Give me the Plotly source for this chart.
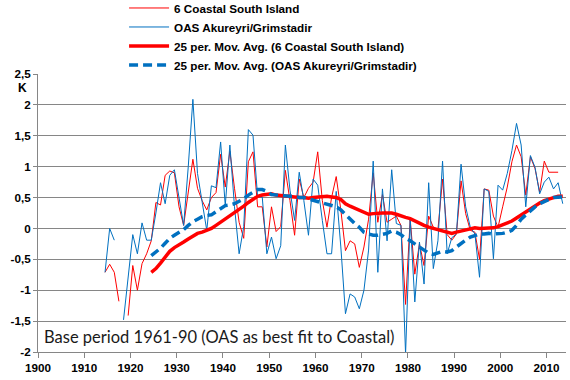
import plotly.graph_objects as go

# ---- data (anomalies, K) ----
years_coastal = list(range(1914, 2013))
coastal = [
    -0.71, -0.58, -0.71, -1.18, None, -1.41, -0.60, -1.00, -0.57, -0.41,   # 1914-1923
    -0.20, 0.42, 0.38, 0.86, 0.93, 0.90, 0.35, 0.05, 0.60, 1.12,           # 1924-1933
    0.65, 0.45, 0.30, 0.50, 0.58, 1.20, 0.67, 1.25, 0.65, 0.10,            # 1934-1943
    -0.16, 1.08, 1.24, 0.35, 0.35, -0.30, 0.35, -0.05, 0.03, 0.94,         # 1944-1953
    0.45, -0.11, 0.80, 0.50, 0.65, 0.75, 1.24, 0.45, 0.02, 0.50,           # 1954-1963
    0.84, 0.30, -0.36, -0.20, -0.25, -0.63, -0.30, 0.15, 0.90, 0.10,       # 1964-1973
    0.55, 0.10, 0.15, 0.20, 0.05, -1.23, 0.15, -0.74, -0.25, -0.60,        # 1974-1983
    0.20, 0.02, -0.02, 0.80, -0.10, -0.19, -0.09, 0.77, 0.24, -0.03,       # 1984-1993
    -0.06, -0.50, 0.64, 0.62, 0.20, 0.02, 0.35, 0.67, 1.08, 1.35,          # 1994-2003
    1.16, 0.54, 1.16, 0.97, 0.59, 1.09, 0.91, 0.91, 0.91,                  # 2004-2012
]

years_oas = list(range(1914, 2014))
oas = [
    -0.71, 0.00, -0.19, None, -1.48, -0.75, -0.10, -0.41, 0.09, -0.19,     # 1914-1923
    -0.19, 0.25, 0.74, 0.40, 0.86, 0.95, 0.50, 0.05, 1.00, 2.09,           # 1924-1933
    0.89, 0.45, -0.03, 0.69, 0.66, 1.40, 0.37, 1.35, 0.35, -0.41,          # 1934-1943
    0.03, 1.60, 1.51, 0.51, 0.51, -0.41, -0.14, -0.49, -0.28, 1.35,        # 1944-1953
    0.62, 0.13, 0.91, 0.45, -0.11, 0.80, 0.70, 0.13, -0.41, -0.41,         # 1954-1963
    0.60, -0.30, -1.38, -1.06, -1.11, -1.30, -1.00, -0.35, 1.09, -0.71,    # 1964-1973
    0.64, -0.20, 0.95, 0.08, 0.05, -2.03, 0.15, -1.19, -0.22, -0.90,       # 1974-1983
    0.74, -0.65, -0.20, 1.09, -0.41, -0.15, -0.09, 1.04, 0.35, 0.02,       # 1984-1993
    -0.09, -0.79, 0.64, 0.60, -0.49, 0.70, 0.62, 0.89, 1.26, 1.70,         # 1994-2003
    1.35, 0.35, 1.18, 0.99, 0.56, 0.75, 0.83, 0.64, 0.74, 0.40,            # 2004-2013
]

years_ma = list(range(1924, 2014))
coastal_ma = [
    -0.71, -0.65, -0.56, -0.46, -0.37, -0.31, -0.27, -0.22, -0.17, -0.12,  # 1924-1933
    -0.08, -0.06, -0.03, 0.00, 0.05, 0.10, 0.16, 0.20, 0.26, 0.31,         # 1934-1943
    0.36, 0.42, 0.47, 0.52, 0.54, 0.55, 0.56, 0.54, 0.53, 0.52,            # 1944-1953
    0.52, 0.51, 0.50, 0.50, 0.49, 0.50, 0.51, 0.52, 0.52, 0.51,            # 1954-1963
    0.50, 0.47, 0.40, 0.36, 0.33, 0.30, 0.27, 0.23, 0.24, 0.25,            # 1964-1973
    0.25, 0.25, 0.25, 0.23, 0.20, 0.18, 0.16, 0.12, 0.09, 0.05,            # 1974-1983
    0.02, 0.00, -0.02, -0.03, -0.06, -0.08, -0.06, -0.04, -0.02, 0.00,     # 1984-1993
    0.01, 0.00, 0.00, 0.01, 0.01, 0.03, 0.06, 0.09, 0.12, 0.17,            # 1994-2003
    0.22, 0.27, 0.32, 0.37, 0.41, 0.45, 0.48, 0.50, 0.52, 0.52,            # 2004-2013
]
oas_ma = [
    -0.44, -0.38, -0.32, -0.24, -0.16, -0.11, -0.07, -0.02, 0.05, 0.11,    # 1924-1933
    0.15, 0.19, 0.21, 0.22, 0.27, 0.32, 0.37, 0.38, 0.40, 0.44,            # 1934-1943
    0.48, 0.54, 0.59, 0.63, 0.63, 0.60, 0.55, 0.54, 0.54, 0.53,            # 1944-1953
    0.52, 0.52, 0.50, 0.50, 0.48, 0.46, 0.43, 0.42, 0.40, 0.38,            # 1954-1963
    0.35, 0.30, 0.22, 0.15, 0.08, 0.02, -0.06, -0.09, -0.11, -0.11,        # 1964-1973
    -0.10, -0.08, -0.04, -0.06, -0.10, -0.16, -0.20, -0.25, -0.30, -0.35,  # 1974-1983
    -0.40, -0.42, -0.40, -0.37, -0.38, -0.36, -0.30, -0.24, -0.19, -0.14,  # 1984-1993
    -0.11, -0.09, -0.09, -0.08, -0.09, -0.09, -0.08, -0.06, -0.03, 0.05,   # 1994-2003
    0.15, 0.22, 0.29, 0.35, 0.40, 0.44, 0.47, 0.50, 0.51, 0.51,            # 2004-2013
]

names = [
    "6 Coastal South Island",
    "OAS Akureyri/Grimstadir",
    "25 per. Mov. Avg. (6 Coastal South Island)",
    "25 per. Mov. Avg. (OAS Akureyri/Grimstadir)",
]

x_ticks = list(range(1900, 2020, 10))
y_ticks = [-2, -1.5, -1, -0.5, 0, 0.5, 1, 1.5, 2, 2.5]
y_ticktext = ["-2", "-1,5", "-1", "-0,5", "0", "0,5", "1", "1,5", "2", "2,5"]

RED = "#FF0000"
BLUE = "#0070C0"
GRID = "#868686"
FONT = "Liberation Sans"


def mid(years):
    # annual values plotted at mid-year
    return [y + 0.5 for y in years]


fig = go.Figure()
fig.add_trace(go.Scatter(x=mid(years_coastal), y=coastal, mode="lines", name=names[0],
                         line=dict(color=RED, width=1), connectgaps=False))
fig.add_trace(go.Scatter(x=mid(years_oas), y=oas, mode="lines", name=names[1],
                         line=dict(color=BLUE, width=1), connectgaps=False))
fig.add_trace(go.Scatter(x=mid(years_ma), y=coastal_ma, mode="lines", name=names[2],
                         line=dict(color=RED, width=3.5)))
fig.add_trace(go.Scatter(x=mid(years_ma), y=oas_ma, mode="lines", name=names[3],
                         line=dict(color=BLUE, width=3.5, dash="9px,5px")))

fig.update_layout(
    width=570, height=380,
    margin=dict(l=38, r=4, t=74, b=28, autoexpand=False),
    paper_bgcolor="white", plot_bgcolor="white",
    font=dict(family=FONT, size=11.7, color="black"),
    showlegend=True,
    legend=dict(
        x=0.163, xanchor="left", y=1.135, yanchor="middle",
        bgcolor="rgba(0,0,0,0)", borderwidth=0, itemwidth=40,
        font=dict(family=FONT, size=11.7, color="black", weight="bold"),
        traceorder="normal",
    ),
    xaxis=dict(
        range=[1900, 2014.2], tickvals=x_ticks, showgrid=False, zeroline=False,
        showline=True, linecolor=GRID, linewidth=1,
        ticks="outside", ticklen=5, tickcolor=GRID,
        tickfont=dict(family=FONT, size=11.7, color="black", weight="bold"),
    ),
    yaxis=dict(
        range=[-2, 2.5], tickvals=y_ticks, ticktext=y_ticktext,
        showgrid=True, gridcolor=GRID, gridwidth=1, zeroline=False,
        showline=True, linecolor=GRID, linewidth=1,
        ticks="outside", ticklen=4, tickcolor=GRID,
        tickfont=dict(family=FONT, size=11.7, color="black", weight="bold"),
    ),
    annotations=[
        dict(text="K", xref="paper", yref="paper", x=-0.03, y=0.95,
             xanchor="center", yanchor="middle", showarrow=False,
             font=dict(family=FONT, size=12, color="black", weight="bold")),
        dict(text="Base period 1961-90 (OAS as best fit to Coastal)",
             xref="paper", yref="paper", x=0.007, y=0.054,
             xanchor="left", yanchor="middle", showarrow=False,
             font=dict(family="Lato", size=16.5, color="#1a1a1a")),
    ],
)

fig.write_html(
    "out.html",
    config={"displayModeBar": False},
    post_script="document.body.style.margin='0';document.body.style.padding='0';",
)
